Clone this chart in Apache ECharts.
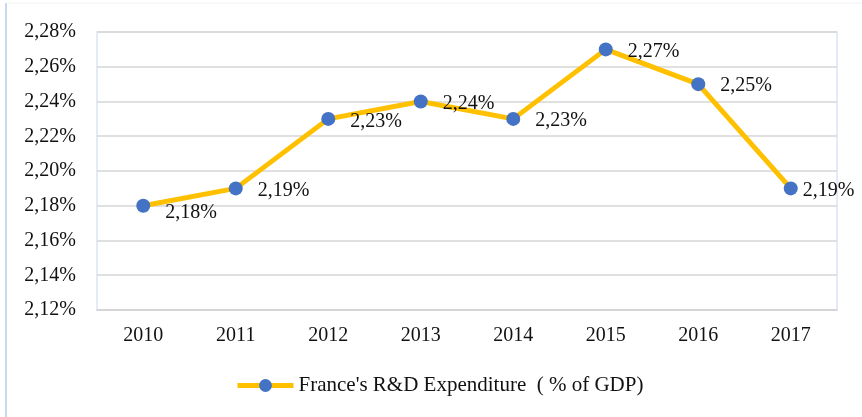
<!DOCTYPE html>
<html><head><meta charset="utf-8">
<script src="https://cdn.jsdelivr.net/npm/echarts@6/dist/echarts.min.js"></script>
<style>html,body{margin:0;padding:0;background:#fff}#c{width:862px;height:417px}</style>
</head><body><div id="c"></div>
<script>
var years = ['2010','2011','2012','2013','2014','2015','2016','2017'];
var rdValues = [2.18, 2.19, 2.23, 2.24, 2.23, 2.27, 2.25, 2.19];
var labelOffsets = [[0,7],[0,2],[0,3],[0,2],[0,2],[0,2],[0,2],[-10,2]];
var seriesName = "France's R&D Expenditure  ( % of GDP)";
var FONT = '"Liberation Serif","Times New Roman",serif';
function pct(v){ return v.toFixed(2).replace('.', ',') + '%'; }
var chart = echarts.init(document.getElementById('c'), null, {renderer:'canvas'});
chart.setOption({
  animation:false,
  backgroundColor:'#fff',
  graphic:[
    {type:'line', shape:{x1:6,y1:3,x2:6,y2:417}, style:{stroke:'#c9d8f0', lineWidth:2}},
    {type:'line', shape:{x1:6,y1:3,x2:862,y2:3}, style:{stroke:'#f0f2f6', lineWidth:1}}
  ],
  grid:{left:97, right:25, top:32, bottom:107, show:true, borderColor:'#dde5f3', borderWidth:1.5},
  legend:{
    top:375, left:235, padding:0,
    itemWidth:56, itemHeight:16, itemGap:4,
    textStyle:{fontFamily:FONT, fontSize:21, color:'#111'},
    lineStyle:{width:5},
    data:[{name:seriesName}]
  },
  xAxis:{
    type:'category', data:years, boundaryGap:true,
    axisLine:{show:true, lineStyle:{color:'#d3d3d3', width:1.5}},
    axisTick:{show:false},
    axisLabel:{fontFamily:FONT, fontSize:20, color:'#111', margin:16}
  },
  yAxis:{
    type:'value', min:2.12, max:2.28, interval:0.02,
    axisLine:{show:false}, axisTick:{show:false},
    splitLine:{lineStyle:{color:'#d6d6d6', width:1.5}},
    axisLabel:{fontFamily:FONT, fontSize:20, color:'#111', margin:21, formatter:function(v){return pct(v);}}
  },
  series:[{
    name:seriesName, type:'line',
    data:rdValues.map(function(v,i){return {value:v, label:{offset:labelOffsets[i]}};}),
    symbol:'circle', symbolSize:14,
    lineStyle:{color:'#FFC000', width:5},
    itemStyle:{color:'#4472C4'},
    label:{show:true, position:'right', distance:15, fontFamily:FONT, fontSize:20, color:'#111',
      formatter:function(p){return pct(p.value);}}
  }]
});
</script></body></html>
